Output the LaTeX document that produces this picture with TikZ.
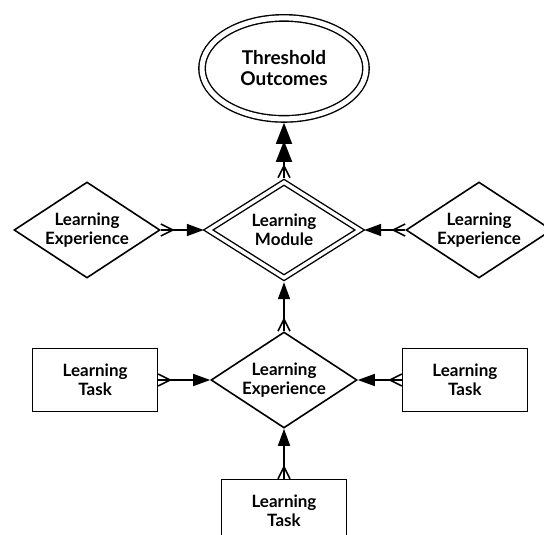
\documentclass[tikz,border=0pt]{standalone}
\usepackage{fontspec}
\setmainfont{Lato}
\usetikzlibrary{arrows.meta, positioning, shapes.geometric}

% crow's foot: three prongs fanning out onto the node
\pgfdeclarearrow{
  name = Crow,
  parameters = {\the\pgfarrowlength,\the\pgfarrowwidth},
  setup code = {
    \pgfarrowssettipend{0pt}
    \pgfarrowssetlineend{0pt}
    \pgfarrowssetbackend{-\pgfarrowlength}
    \pgfarrowssavethe\pgfarrowlength
    \pgfarrowssavethe\pgfarrowwidth
  },
  drawing code = {
    \pgfpathmoveto{\pgfqpoint{0pt}{.5\pgfarrowwidth}}
    \pgfpathlineto{\pgfqpoint{-\pgfarrowlength}{0pt}}
    \pgfpathlineto{\pgfqpoint{0pt}{-.5\pgfarrowwidth}}
    \pgfusepathqstroke
  },
  defaults = {length=12pt, width=12pt}
}

\begin{document}
\begin{tikzpicture}[x=1pt, y=1pt,
    font=\bfseries\fontsize{17}{18.5}\selectfont,
    stage/.style={diamond, aspect=1.5, draw, line width=1.6pt, inner sep=0pt,
      minimum width=146pt, minimum height=96pt, align=center},
    unit/.style={stage, double, line width=1.4pt, double distance=3.5pt,
      minimum width=154pt, minimum height=98pt, outer sep=3.2pt},
    goal/.style={ellipse, draw, double, line width=1.4pt, double distance=5pt,
      minimum width=164pt, minimum height=101pt, inner sep=0pt,
      outer sep=3.9pt, align=center, font=\bfseries\fontsize{19}{21}\selectfont},
    task/.style={rectangle, draw, line width=1.1pt,
      minimum width=125pt, minimum height=63pt, align=center},
    link/.style={line width=1.6pt,
      {Crow[line width=1.3pt]}-{Triangle[length=17pt, width=12pt]}},
    rise/.style={line width=1.6pt,
      {Crow[line width=1.3pt]}-{Triangle[length=21pt, width=16pt, sep=-3pt]Triangle[length=21pt, width=16pt]}}
  ]
    \useasboundingbox (0,0) rectangle (544,-535);

    \node[stage] (exp) at (284,-380) {Learning\\Experience};
    \node[unit, above=49pt of exp] (mod) {Learning\\Module};
    \node[goal, above=55pt of mod] (goal) {Threshold\\Outcomes};
    \node[stage, left=43pt of mod] (expl) {Learning\\Experience};
    \node[stage, right=41pt of mod] (expr) {Learning\\Experience};
    \node[task, left=52pt of exp] (taskl) {Learning\\Task};
    \node[task, right=44pt of exp] (taskr) {Learning\\Task};
    \node[task, below=50pt of exp] (taskb) {Learning\\Task};

    % tasks feed the experience
    \draw[link] (taskl.east) -- (exp.west);
    \draw[link] (taskr.west) -- (exp.east);
    \draw[link] (taskb.north) -- (exp.south);

    % experiences feed the module
    \draw[link] (exp.north) -- (mod.south);
    \draw[link] (expl.east) -- (mod.west);
    \draw[link] (expr.west) -- (mod.east);

    \draw[rise] (mod.north) -- (goal.south);
\end{tikzpicture}
\end{document}
